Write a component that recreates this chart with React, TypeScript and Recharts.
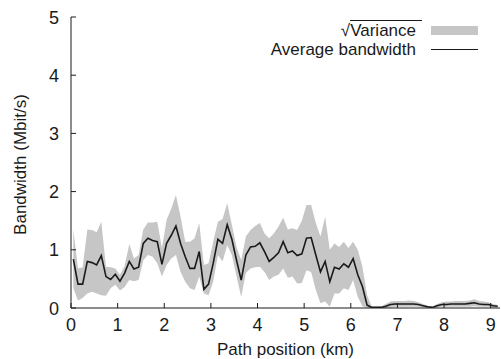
import React from 'react';
import { ComposedChart, Area, Line, XAxis, YAxis, Legend } from 'recharts';

const km = [0.05,0.15,0.25,0.35,0.45,0.55,0.65,0.75,0.85,0.95,1.05,1.15,1.25,1.35,1.45,1.55,1.65,1.75,1.85,1.95,2.05,2.15,2.25,2.35,2.45,2.55,2.65,2.75,2.85,2.95,3.05,3.15,3.25,3.35,3.45,3.55,3.65,3.75,3.85,3.95,4.05,4.15,4.25,4.35,4.45,4.55,4.65,4.75,4.85,4.95,5.05,5.15,5.25,5.35,5.45,5.55,5.65,5.75,5.85,5.95,6.05,6.15,6.25,6.35,6.45,6.55,6.65,6.75,6.85,6.95,7.05,7.15,7.25,7.35,7.45,7.55,7.65,7.75,7.85,7.95,8.05,8.15,8.25,8.35,8.45,8.55,8.65,8.75,8.85,8.95,9.05,9.15];
const avg = [0.84,0.41,0.41,0.80,0.78,0.74,0.90,0.54,0.49,0.58,0.46,0.60,0.80,0.67,0.70,1.11,1.20,1.16,1.14,0.75,1.11,1.25,1.41,1.11,0.88,0.68,0.68,0.97,0.32,0.41,0.77,1.18,1.11,1.43,1.18,0.82,0.48,0.91,1.05,1.06,1.12,0.97,0.80,0.87,0.95,1.14,0.95,0.98,0.90,0.93,1.20,1.21,0.91,0.62,0.80,0.45,0.70,0.67,0.76,0.70,0.85,0.57,0.37,0.05,0.01,0.01,0.01,0.03,0.06,0.07,0.07,0.07,0.07,0.07,0.06,0.04,0.02,0.01,0.04,0.06,0.06,0.07,0.07,0.07,0.07,0.08,0.09,0.07,0.06,0.06,0.04,0.03];
const lo = [0.34,0.13,0.17,0.25,0.28,0.25,0.22,0.21,0.34,0.40,0.30,0.36,0.48,0.46,0.48,0.82,0.91,0.88,0.77,0.54,0.74,0.85,0.91,0.62,0.45,0.34,0.31,0.54,0.25,0.22,0.45,0.91,0.80,1.08,0.91,0.54,0.19,0.60,0.68,0.70,0.71,0.62,0.48,0.54,0.57,0.68,0.52,0.54,0.42,0.43,0.65,0.62,0.31,0.08,0.11,0.02,0.25,0.25,0.34,0.31,0.48,0.19,0.03,0,0,0,0,0,0.01,0.02,0.02,0.02,0.02,0.02,0.02,0.01,0,0,0.01,0.02,0.02,0.02,0.02,0.02,0.02,0.02,0.03,0.02,0.02,0.02,0.01,0.01];
const hi = [1.35,0.68,0.70,1.35,1.34,1.30,1.48,0.71,0.70,0.68,0.57,0.72,1.10,0.85,0.91,1.35,1.47,1.47,1.48,1.03,1.51,1.71,1.94,1.57,1.14,1.14,1.20,1.46,0.74,0.77,1.14,1.48,1.53,1.80,1.43,1.05,0.82,1.23,1.34,1.41,1.46,1.28,1.20,1.28,1.40,1.55,1.35,1.37,1.34,1.50,1.77,1.77,1.46,1.23,1.57,1.00,1.11,1.05,1.14,1.03,1.14,1.00,0.71,0.22,0.02,0.02,0.03,0.07,0.11,0.12,0.12,0.12,0.13,0.12,0.10,0.07,0.04,0.02,0.07,0.10,0.11,0.11,0.12,0.12,0.12,0.13,0.15,0.12,0.11,0.10,0.07,0.05];

const xTicks = [0,1,2,3,4,5,6,7,8,9];
const yTicks = [0,1,2,3,4,5];
const xLabel = 'Path position (km)';
const yLabel = 'Bandwidth (Mbit/s)';
const legendVariance = 'Variance';
const legendAvg = 'Average bandwidth';

const data = km.map((k, i) => ({ km: k, avg: avg[i], range: [lo[i], hi[i]] }));

const FONT = '"Liberation Sans", Arial, Helvetica, sans-serif';
const INK = '#1a1a1a';
const BAND = '#c6c6c6';
const TL = 5;

const BottomTick = (p: any) => (
  <g>
    <line x1={p.x} y1={p.y} x2={p.x} y2={p.y - TL} stroke={INK} strokeWidth={1} />
    <text x={p.x} y={p.y + 23} textAnchor="middle" fontSize={18} fontFamily={FONT} fill={INK}>{p.payload.value}</text>
  </g>
);
const LeftTick = (p: any) => (
  <g>
    <line x1={p.x} y1={p.y} x2={p.x + TL} y2={p.y} stroke={INK} strokeWidth={1} />
    <text x={p.x - 12} y={p.y + 6.5} textAnchor="end" fontSize={18} fontFamily={FONT} fill={INK}>{p.payload.value}</text>
  </g>
);
const TopTick = (p: any) => (
  <line x1={p.x} y1={p.y} x2={p.x} y2={p.y + TL} stroke={INK} strokeWidth={1} />
);
const RightTick = (p: any) => (
  <line x1={p.x} y1={p.y} x2={p.x - TL} y2={p.y} stroke={INK} strokeWidth={1} />
);

const YTitle = (props: any) => {
  const vb = props.viewBox || { x: 0, y: 17, width: 71, height: 291 };
  const cx = vb.x + 20;
  const cy = vb.y + vb.height / 2 + 2;
  return (
    <text x={cx} y={cy} transform={`rotate(-90 ${cx} ${cy})`} textAnchor="middle" dominantBaseline="central" fontSize={17} fontFamily={FONT} fill={INK}>{yLabel}</text>
  );
};
const XTitle = (props: any) => {
  const vb = props.viewBox || { x: 71, y: 308, width: 429, height: 51 };
  return (
    <text x={vb.x + vb.width / 2} y={vb.y + 47} textAnchor="middle" fontSize={17} fontFamily={FONT} fill={INK}>{xLabel}</text>
  );
};

const LegendContent = () => (
  <div style={{ fontFamily: FONT, fontSize: 17, color: INK, lineHeight: '19px' }}>
    <div style={{ display: 'flex', justifyContent: 'flex-end', alignItems: 'center', height: 19 }}>
      <span>√<span style={{ borderTop: `1px solid ${INK}`, paddingRight: 6 }}>{legendVariance}</span></span>
      <span style={{ display: 'inline-block', width: 47, height: 9, background: BAND, marginLeft: 9 }} />
    </div>
    <div style={{ display: 'flex', justifyContent: 'flex-end', alignItems: 'center', height: 19 }}>
      <span>{legendAvg}</span>
      <span style={{ display: 'inline-block', width: 47, height: 1.5, background: INK, marginLeft: 15 }} />
    </div>
  </div>
);

export default function App() {
  return (
    <div style={{ position: 'absolute', left: 0, top: 0, width: 501, height: 359, background: '#fff' }}>
      <ComposedChart width={501} height={359} data={data} margin={{ top: 17, right: 1, bottom: 0, left: 0 }}>
        <XAxis dataKey="km" type="number" domain={[0, 9.2]} allowDataOverflow ticks={xTicks} height={51}
          tickSize={0} tickMargin={0} tickLine={false} tick={<BottomTick />} axisLine={{ stroke: INK, strokeWidth: 1 }}
          label={<XTitle />} interval={0} />
        <XAxis xAxisId="top" orientation="top" dataKey="km" type="number" domain={[0, 9.2]} allowDataOverflow ticks={xTicks} height={0}
          tickSize={0} tickMargin={0} tickLine={false} tick={<TopTick />} axisLine={{ stroke: INK, strokeWidth: 1 }} interval={0} />
        <YAxis type="number" domain={[0, 5]} allowDataOverflow ticks={yTicks} width={71}
          tickSize={0} tickMargin={0} tickLine={false} tick={<LeftTick />} axisLine={{ stroke: INK, strokeWidth: 1 }}
          label={<YTitle />} interval={0} />
        <YAxis yAxisId="right" orientation="right" type="number" domain={[0, 5]} allowDataOverflow ticks={yTicks} width={0}
          tickSize={0} tickMargin={0} tickLine={false} tick={<RightTick />} axisLine={{ stroke: INK, strokeWidth: 1 }} interval={0} />
        <Legend layout="horizontal" verticalAlign="middle" align="center" content={<LegendContent />}
          wrapperStyle={{ position: 'absolute', top: 21, right: 23, left: 'auto', bottom: 'auto', width: 'auto', height: 'auto' }} />
        <Area dataKey="range" type="linear" fill={BAND} fillOpacity={1} stroke="none" isAnimationActive={false} legendType="none" />
        <Line dataKey="avg" type="linear" stroke={INK} strokeWidth={1.6} dot={false} activeDot={false} isAnimationActive={false} legendType="none" />
      </ComposedChart>
    </div>
  );
}
